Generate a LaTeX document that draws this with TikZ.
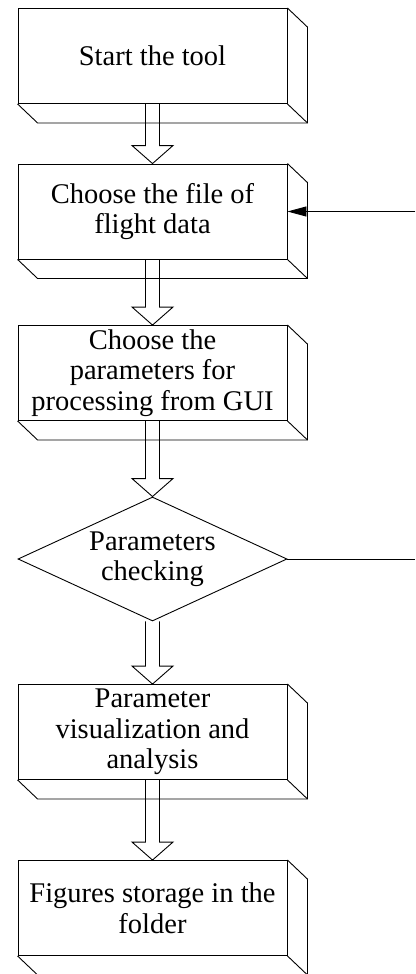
\documentclass[tikz,border=0pt]{standalone}
\usepackage{fontspec}
\setmainfont{Liberation Serif}
\usetikzlibrary{arrows.meta,shapes.geometric,calc,positioning}
\newcommand {\bevel}[1] {\draw (#1.north east) -- ++(20pt,-19pt) |- ($(#1.south west)+(20pt,-19pt)$) -- (#1.south west);
                         \draw (#1.south east) -- ++(20pt,-19pt);}
\newcommand {\hollow}[2] {\draw ($(#1.south)+(-7pt,0)$) -- ($(#2.north)+(-7pt,18pt)$) -- ++(-13.5pt,0) -- (#2.north)
                          -- ++(20.5pt,18pt) -- ++(-13.5pt,0) -- ($(#1.south)+(7pt,0)$);}

\begin{document}
\begin{tikzpicture}[x=1pt, y=-1pt, line width=0.9pt,
        every node/.style={font=\fontsize{28.5}{30.5}\selectfont, align=center},
        box/.style={draw, minimum width=269pt, minimum height=95pt, inner sep=0pt},
        check/.style={draw, diamond, aspect=2.17, minimum width=269pt, minimum height=124pt, inner sep=0pt}]
        \useasboundingbox (0,0) rectangle (415,974);
        \node[box] (start) at (152.5,56) {Start the tool};
        \node[box] (choose) at (152.5,211.5) {Choose the file of\\flight data};
        \node[box] (params) at (152.5,373) {Choose the\\parameters for\\processing from GUI};
        \node[check] (check) at (152.5,559) {Parameters\\checking};
        \node[box] (visual) at (152.5,732) {Parameter\\visualization and\\analysis};
        \node[box] (store) at (152.5,908) {Figures storage in the\\folder};
        \bevel{start}
        \bevel{choose}
        \bevel{params}
        \bevel{visual}
        \bevel{store}
        \hollow{start}{choose}
        \hollow{choose}{params}
        \hollow{params}{check}
        \hollow{check}{visual}
        \hollow{visual}{store}
        \coordinate[right=128pt of choose.east] (fbin);
        \coordinate[right=128pt of check.east] (fbout);
        \draw[-{Triangle[length=19pt,width=10pt]}] (fbin) -- (choose.east);
        \draw (check.east) -- (fbout);
    \end{tikzpicture}
\end{document}
